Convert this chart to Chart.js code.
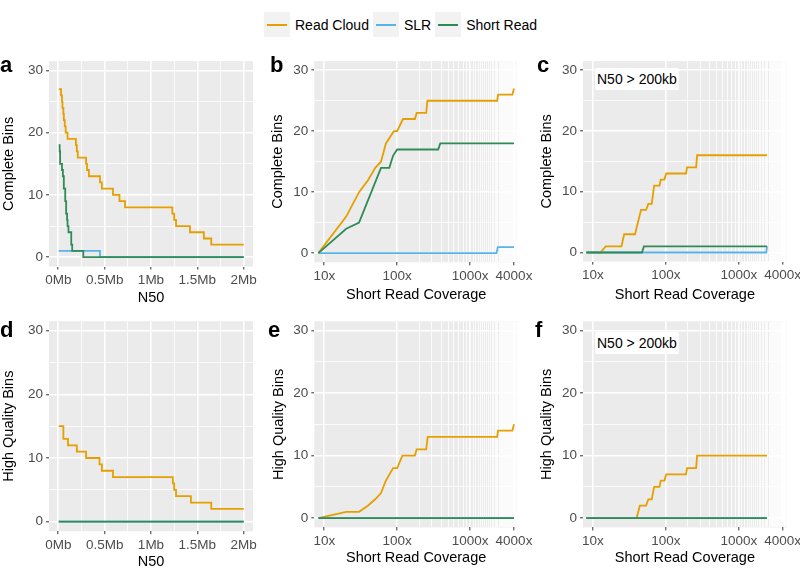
<!DOCTYPE html>
<html>
<head>
<meta charset="utf-8">
<script src="https://cdn.jsdelivr.net/npm/chart.js@4"></script>
<style>
  html, body { margin: 0; padding: 0; background: #fff; }
  body { width: 800px; height: 569px; position: relative; overflow: hidden;
         font-family: 'Liberation Sans', Arial, sans-serif; }
  canvas { position: absolute; }
  .letter { position: absolute; font-weight: bold; font-size: 22px; line-height: 21px; color: #000; }
  .note { position: absolute; background: #fff; font-size: 14px; line-height: 22px;
          padding: 0 2px; color: #000; border-radius: 2px; }
  #legend { position: absolute; left: 264px; top: 12px; height: 25px; display: flex; align-items: center; }
  .key { width: 26px; height: 25px; background: #F2F2F2; position: relative; }
  .key span { position: absolute; left: 3px; right: 3px; top: 11.5px; height: 2px; }
  .lbl { font-size: 14px; margin: 0 4px 0 5px; color: #000; }
</style>
</head>
<body>

<div id="legend"></div>

<script>
// ---- series colours / names ----
const SERIES_NAMES  = ['Read Cloud', 'SLR', 'Short Read'];
const SERIES_COLORS = ['#E69F00', '#56B4E9', '#2E8B57'];

// ---- axis ticks ----
const BIN_TICKS      = [0, 10, 20, 30];
const BIN_MINOR      = [5, 15, 25];
const N50_TICKS      = [0, 0.5, 1, 1.5, 2];
const N50_LABELS     = ['0Mb', '0.5Mb', '1Mb', '1.5Mb', '2Mb'];
const N50_MINOR      = [0.25, 0.75, 1.25, 1.75];
const COV_TICKS      = [10, 100, 1000, 4000];
const COV_LABELS     = ['10x', '100x', '1000x', '4000x'];
const COV_MINOR_STEP = 100;   // minor grid every 100x above 100x

// ---- a: complete bins vs N50 (Mb) ----
const A_READ_CLOUD = [[0.005,27],[0.03,26],[0.04,25],[0.045,24],[0.055,23],[0.06,22],[0.07,21],[0.08,20],
  [0.1,19],[0.19,18],[0.2,17],[0.21,16],[0.3,15],[0.31,14],[0.33,13],[0.45,12],[0.47,11],[0.59,10],
  [0.66,9],[0.72,8],[1.23,7],[1.25,6],[1.27,5],[1.42,4],[1.57,3],[1.65,2],[2.0,2]];
const A_SLR        = [[0.005,1],[0.45,0],[2.0,0]];
const A_SHORT_READ = [[0.005,18],[0.015,17],[0.02,15],[0.04,14],[0.05,13],[0.06,11],[0.075,9],[0.085,7],
  [0.095,6],[0.1,5],[0.11,4],[0.14,2],[0.15,1],[0.27,0],[2.0,0]];

// ---- b: complete bins vs short read coverage ----
const B_READ_CLOUD = [[8.3,0],[20,6],[30,10],[40,12],[50,14],[60,15],[70,18],[90,20],[100,20],[120,22],
  [175,22],[185,23],[250,23],[260,25],[2350,25],[2420,26],[3800,26],[4000,27]];
const B_SLR        = [[8.3,0],[2300,0],[2400,1],[4000,1]];
const B_SHORT_READ = [[8.3,0],[20,4],[30,5],[60,14],[78,14],[88,16],[100,17],[365,17],[390,18],[4000,18]];

// ---- c: complete bins, N50 > 200kb ----
const C_READ_CLOUD = [[8.1,0],[12.6,0],[15,1],[24.6,1],[26.8,3],[37.7,3],[45.6,7],[53.5,7],[57.5,8],[64,8],
  [69,11],[81.7,11],[85,12],[95.6,12],[101,13],[189,13],[195,14],[260,14],[268,16],[2440,16]];
const C_SLR        = [[8.1,0],[2380,0],[2440,1]];
const C_SHORT_READ = [[8.1,0],[47,0],[50,1],[2440,1]];

// ---- d: high quality bins vs N50 (Mb) ----
const D_READ_CLOUD = [[0.005,15],[0.055,13],[0.105,12],[0.2,11],[0.3,10],[0.445,9],[0.47,8],[0.59,7],
  [1.235,6],[1.25,5],[1.27,4],[1.43,3],[1.65,2],[2.0,2]];
const D_SLR        = [[0.005,0],[2.0,0]];
const D_SHORT_READ = [[0.005,0],[2.0,0]];

// ---- e: high quality bins vs short read coverage ----
const E_READ_CLOUD = [[8.3,0],[20,1],[30,1],[40,2],[50,3],[60,4],[70,6],[88,8],[100,8],[118,10],
  [175,10],[185,11],[250,11],[262,13],[2350,13],[2420,14],[3800,14],[4000,15]];
const E_SLR        = [[8.3,0],[4000,0]];
const E_SHORT_READ = [[8.3,0],[4000,0]];

// ---- f: high quality bins, N50 > 200kb ----
const F_READ_CLOUD = [[8.1,0],[39.7,0],[44,2],[53.5,2],[57.5,3],[64,3],[69,5],[81.7,5],[85,6],[95.6,6],
  [101,7],[189,7],[195,8],[260,8],[268,10],[2440,10]];
const F_SLR        = [[8.1,0],[2440,0]];
const F_SHORT_READ = [[8.1,0],[2440,0]];

// ---- panel layout (page px) ----
const PANELS = [
  { id: 'a', box: [0, 50, 265, 260],   plot: [49, 253, 56.4, 266.5],    kind: 'n50', yTitle: 'Complete Bins',
    yTitleX: 8.3,   xTitleY: 298, letterX: 0,   series: [A_READ_CLOUD, A_SLR, A_SHORT_READ] },
  { id: 'b', box: [265, 50, 272, 260], plot: [314.3, 518, 56.6, 262.3], kind: 'cov', yTitle: 'Complete Bins',
    yTitleX: 278,   xTitleY: 295, letterX: 270, series: [B_READ_CLOUD, B_SLR, B_SHORT_READ] },
  { id: 'c', box: [530, 50, 270, 260], plot: [583, 786.7, 56.7, 261.6], kind: 'cov', yTitle: 'Complete Bins',
    yTitleX: 546.7, xTitleY: 295, letterX: 537, series: [C_READ_CLOUD, C_SLR, C_SHORT_READ], note: true },
  { id: 'd', box: [0, 310, 265, 259],  plot: [49, 253, 321.2, 531.2],   kind: 'n50', yTitle: 'High Quality Bins',
    yTitleX: 9.2,   xTitleY: 563, letterX: 0,   series: [D_READ_CLOUD, D_SLR, D_SHORT_READ] },
  { id: 'e', box: [265, 310, 272, 259], plot: [314.3, 518, 321.3, 527.4], kind: 'cov', yTitle: 'High Quality Bins',
    yTitleX: 278.3, xTitleY: 558, letterX: 268, series: [E_READ_CLOUD, E_SLR, E_SHORT_READ] },
  { id: 'f', box: [530, 310, 270, 259], plot: [583, 786.7, 321.3, 527.4], kind: 'cov', yTitle: 'High Quality Bins',
    yTitleX: 546.7, xTitleY: 558, letterX: 535, series: [F_READ_CLOUD, F_SLR, F_SHORT_READ], note: true },
];

const FONT = "'Liberation Sans', Arial, sans-serif";
Chart.defaults.font.family = FONT;

//  grey panel background (ggplot look)
const panelBackground = {
  id: 'panelBackground',
  beforeDraw(chart) {
    const { ctx, chartArea: a } = chart;
    ctx.save();
    ctx.fillStyle = '#EBEBEB';
    ctx.fillRect(a.left, a.top, a.right - a.left, a.bottom - a.top);
    ctx.restore();
  },
};

function covMinor() {
  const out = [];
  for (let v = 2 * COV_MINOR_STEP; v <= 4500; v += COV_MINOR_STEP) {
    if (!COV_TICKS.includes(v)) out.push(v);
  }
  return out;
}

function gridFor(major) {
  return {
    color: '#FFFFFF',
    lineWidth: ctx => (ctx.tick && major.includes(ctx.tick.value)) ? 1.6 : 0.8,
    drawTicks: true,
    tickLength: 3,
    tickWidth: 1,
    tickColor: ctx => (ctx.tick && major.includes(ctx.tick.value)) ? '#333333' : 'rgba(0,0,0,0)',
  };
}

function makePanel(p) {
  const [bx, by, bw, bh] = p.box;
  const [pl, pr, pt, pb] = p.plot;

  const canvas = document.createElement('canvas');
  canvas.width = bw; canvas.height = bh;
  canvas.style.left = bx + 'px'; canvas.style.top = by + 'px';
  canvas.style.width = bw + 'px'; canvas.style.height = bh + 'px';
  document.body.appendChild(canvas);

  const letter = document.createElement('div');
  letter.className = 'letter';
  letter.textContent = p.id;
  letter.style.left = p.letterX + 'px';
  letter.style.top = (pt - 2.5) + 'px';
  document.body.appendChild(letter);

  if (p.note) {
    const note = document.createElement('div');
    note.className = 'note';
    note.textContent = 'N50 > 200kb';
    note.style.left = (pl + 12) + 'px';
    note.style.top = (pt + 11) + 'px';
    document.body.appendChild(note);
  }

  const isN50 = p.kind === 'n50';
  const xTickVals = isN50 ? N50_TICKS : COV_TICKS;
  const xLabels   = isN50 ? N50_LABELS : COV_LABELS;
  const xGrid     = isN50 ? [...N50_TICKS, ...N50_MINOR].sort((a, b) => a - b)
                          : [...COV_TICKS, ...covMinor()].sort((a, b) => a - b);
  const yGrid     = [...BIN_TICKS, ...BIN_MINOR].sort((a, b) => a - b);

  const datasets = p.series.map((pts, i) => ({
    label: SERIES_NAMES[i],
    data: pts.map(([x, y]) => ({ x, y })),
    borderColor: SERIES_COLORS[i],
    backgroundColor: SERIES_COLORS[i],
    borderWidth: 1.8,
    pointRadius: 0,
    tension: 0,
    stepped: isN50 ? 'before' : false,
    order: 3 - i,          // Short Read drawn on top
  }));

  new Chart(canvas, {
    type: 'line',
    data: { datasets },
    options: {
      responsive: false,
      animation: false,
      devicePixelRatio: 1,
      layout: {
        autoPadding: false,
        padding: { left: 0, top: pt - by, right: bx + bw - pr, bottom: 0 },
      },
      plugins: { legend: { display: false }, tooltip: { enabled: false } },
      scales: {
        x: {
          type: isN50 ? 'linear' : 'logarithmic',
          min: isN50 ? -0.1 : 7.3,
          max: isN50 ? 2.1 : 4540,
          afterFit: s => { s.height = by + bh - pb; },
          afterBuildTicks: s => { s.ticks = xGrid.map(v => ({ value: v })); },
          ticks: {
            autoSkip: false, maxRotation: 0, padding: 3,
            color: '#4D4D4D', font: { size: 13.5 },
            callback: v => { const k = xTickVals.indexOf(v); return k >= 0 ? xLabels[k] : ''; },
          },
          grid: gridFor(COV_TICKS.includes(4000) && !isN50 ? COV_TICKS : N50_TICKS),
          border: { display: false },
          title: {
            display: true, text: isN50 ? 'N50' : 'Short Read Coverage', color: '#000',
            font: { size: 14.5, lineHeight: 1 },
            padding: { top: 0, bottom: Math.max(0, by + bh - p.xTitleY - 7) },
          },
        },
        y: {
          type: 'linear',
          min: -1.5,
          max: 31.5,
          afterFit: s => { s.width = pl - bx; },
          afterBuildTicks: s => { s.ticks = yGrid.map(v => ({ value: v })); },
          ticks: {
            autoSkip: false, padding: 3,
            color: '#4D4D4D', font: { size: 13.5 },
            callback: v => BIN_TICKS.includes(v) ? String(v) : '',
          },
          grid: gridFor(BIN_TICKS),
          border: { display: false },
          title: {
            display: true, text: p.yTitle, color: '#000',
            font: { size: 14.5, lineHeight: 1 },
            padding: { top: Math.max(0, p.yTitleX - bx - 7), bottom: 0 },
          },
        },
      },
    },
    plugins: [panelBackground],
  });
}

PANELS.forEach(makePanel);

//  LEGEND
document.getElementById('legend').innerHTML = SERIES_NAMES.map((name, i) => `
  <div class="key"><span style="background:${SERIES_COLORS[i]}"></span></div>
  <div class="lbl">${name}</div>`).join('');
</script>
</body>
</html>
